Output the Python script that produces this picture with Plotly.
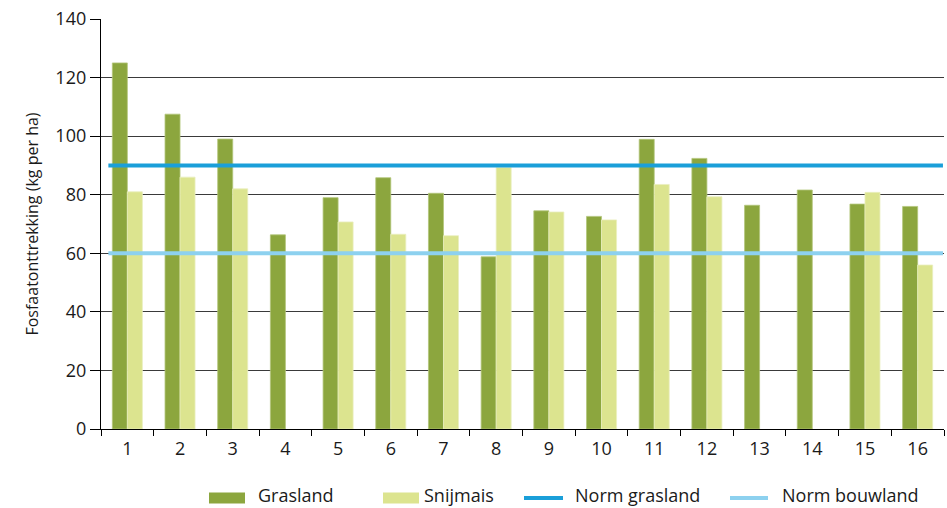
import plotly.graph_objects as go

# ---- data ----
categories = [str(i) for i in range(1, 17)]
grasland = [125, 107.5, 99, 66.3, 79, 85.8, 80.5, 58.8, 74.5, 72.6, 98.9, 92.4, 76.4, 81.6, 76.8, 76]
snijmais = [81, 86, 82, None, 70.7, 66.5, 66, 89.3, 74.1, 71.4, 83.5, 79.3, None, None, 80.8, 56]
norm_grasland = 90
norm_bouwland = 60
y_ticks = [0, 20, 40, 60, 80, 100, 120, 140]
series_names = ["Grasland", "Snijmais", "Norm grasland", "Norm bouwland"]
y_title = "Fosfaatonttrekking (kg per ha)"

# ---- styles ----
C_GRAS = "#8ca63e"
C_SNIJ = "#dce48f"
C_NG = "#1a9fd9"
C_NB = "#8dd1ef"
FONT = "Open Sans"
TXT = "#1a1a1a"

W, H = 947, 508
L, R, T, B = 101, 3, 19, 79
PW, PH = W - L - R, H - T - B

def px_x(px):
    return (px - L) / PW

def px_y(py):
    return (H - B - py) / PH

fig = go.Figure()
fig.add_trace(go.Bar(x=categories, y=grasland, name=series_names[0],
                     marker=dict(color=C_GRAS, line=dict(width=0.8, color="#b3c57a")),
                     showlegend=False))
fig.add_trace(go.Bar(x=categories, y=snijmais, name=series_names[1],
                     marker=dict(color=C_SNIJ, line=dict(width=0.8, color="#eaefbf")),
                     showlegend=False))

n = len(categories)
line_x = [1 - 0.36, n + 0.48]
fig.add_trace(go.Scatter(x=line_x, y=[norm_grasland] * 2, mode="lines", xaxis="x2",
                         line=dict(color=C_NG, width=4), name=series_names[2], showlegend=False))
fig.add_trace(go.Scatter(x=line_x, y=[norm_bouwland] * 2, mode="lines", xaxis="x2",
                         line=dict(color=C_NB, width=4), name=series_names[3], showlegend=False))

fig.update_layout(
    width=W, height=H,
    margin=dict(l=L, r=R, t=T, b=B),
    paper_bgcolor="white", plot_bgcolor="white",
    barmode="group", bargap=0.43, bargroupgap=0,
    font=dict(family=FONT, color=TXT, size=18),
    xaxis=dict(type="category", tickson="boundaries", ticks="outside", ticklen=6,
               tickcolor="black", tickwidth=1.3, showline=True, linecolor="black",
               linewidth=1.3, showgrid=False, tickfont=dict(size=18), range=[-0.5, n - 0.5],
               ticklabelstandoff=3),
    xaxis2=dict(overlaying="x", range=[0.5, n + 0.5], visible=False),
    yaxis=dict(range=[0, 140], tickvals=y_ticks, ticks="outside", ticklen=10,
               tickcolor="black", tickwidth=1.3, showline=True, linecolor="black",
               linewidth=1.3, showgrid=True, gridcolor="#3a3a3a", gridwidth=1.3,
               zeroline=False, tickfont=dict(size=18),
               title=dict(text=y_title, font=dict(size=16), standoff=12)),
)

# ---- custom legend (swatches + labels) ----
legend_items = [
    (series_names[0], "rect", C_GRAS, 209, 245, 257),
    (series_names[1], "rect", C_SNIJ, 383, 419, 423),
    (series_names[2], "line", C_NG, 524, 563, 574),
    (series_names[3], "line", C_NB, 730, 768, 781),
]
cy = 498
for name, kind, color, x0, x1, tx in legend_items:
    if kind == "rect":
        fig.add_shape(type="rect", xref="paper", yref="paper",
                      x0=px_x(x0), x1=px_x(x1), y0=px_y(cy + 5.5), y1=px_y(cy - 5.5),
                      fillcolor=color, line=dict(width=0))
    else:
        fig.add_shape(type="line", xref="paper", yref="paper",
                      x0=px_x(x0), x1=px_x(x1), y0=px_y(cy), y1=px_y(cy),
                      line=dict(color=color, width=4))
    fig.add_annotation(text=name, xref="paper", yref="paper", x=px_x(tx), y=px_y(H),
                       xanchor="left", yanchor="bottom", showarrow=False, borderpad=0,
                       font=dict(size=18, family=FONT, color=TXT))

fig.write_html("out.html")
